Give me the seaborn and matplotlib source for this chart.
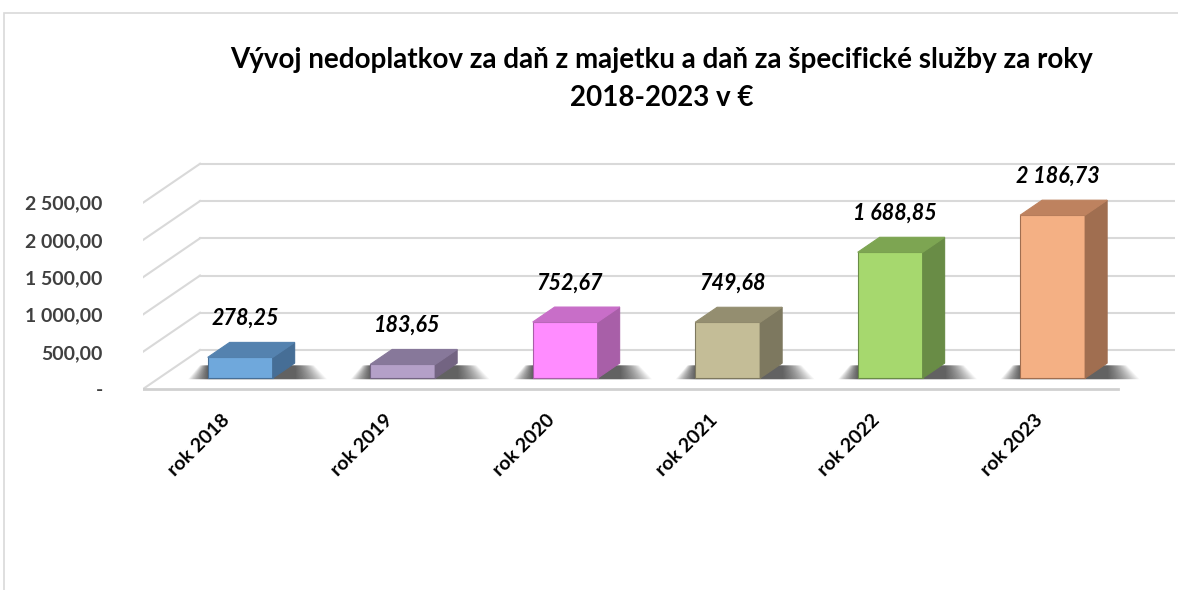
import seaborn as sns
import matplotlib.pyplot as plt
from matplotlib.patches import Polygon, Rectangle

years = ["rok 2018", "rok 2019", "rok 2020", "rok 2021", "rok 2022", "rok 2023"]
values = [278.25, 183.65, 752.67, 749.68, 1688.85, 2186.73]
y_ticks = [0, 500, 1000, 1500, 2000, 2500]
front_colors = ["#6FA8DC", "#B4A0C8", "#FF8CFF", "#C4BD97", "#A6D86E", "#F4B084"]
top_colors = ["#5482AF", "#87789A", "#C86EC8", "#948E70", "#7DA552", "#BE825F"]
side_colors = ["#466E96", "#736482", "#A85FA8", "#7D785F", "#698C46", "#A06E50"]
title = "Vývoj nedoplatkov za daň z majetku a daň za špecifické služby za roky\n2018-2023 v €"


def fmt(v):
    if v == 0:
        return "-"
    return f"{v:,.2f}".replace(",", " ").replace(".", ",")


# fake 3d box: depth of the whole floor and of one bar (data units)
DEPTH_X, DEPTH_Y = 0.351, 523
BAR_FRONT = 0.28
BAR_DX, BAR_DY = 0.135, 201
GRID = "#d9d9d9"

plt.rcParams['font.family'] = ['Lato', 'DejaVu Sans']

fig = plt.figure(figsize=(11.78, 5.9), dpi=100)
ax = fig.add_axes([143 / 1178, 189.8 / 590, 1032 / 1178, 245.9 / 590])

sns.barplot(x=years, y=values, hue=years, palette=front_colors, width=0.4,
            saturation=1, legend=False, ax=ax, zorder=4)

# walls and gridlines
for v in y_ticks:
    ax.plot([-0.5, -0.5 + DEPTH_X], [v, v + DEPTH_Y], color=GRID, lw=1.5, zorder=1)
    ax.plot([-0.5 + DEPTH_X, 5.5 + DEPTH_X], [v + DEPTH_Y] * 2, color=GRID, lw=1.5, zorder=1)
ax.plot([-0.5, 5.5], [0, 0], color="#d0d0d0", lw=2, zorder=1)

sx, sy = BAR_FRONT * DEPTH_X, BAR_FRONT * DEPTH_Y
for p, v, top, side in zip(ax.patches, values, top_colors, side_colors):
    x0 = p.get_x() + sx
    w = p.get_width()
    h = p.get_height()
    p.set_x(x0)
    p.set_y(sy)
    p.set_edgecolor(side)
    p.set_linewidth(0.8)
    x1 = x0 + w
    y1 = sy + h
    # soft shadow on the floor, many faint layers
    for k in range(22):
        gl = 0.005 + k * 0.0055
        gr = 0.01 + k * 0.009
        ax.add_patch(Polygon([(x0 - gl, sy - 15), (x1 + BAR_DX + gr, sy - 15),
                              (x1 + BAR_DX + gr * 0.6, sy + BAR_DY * 0.85),
                              (x0 - gl * 0.4, sy + BAR_DY * 0.85)],
                             closed=True, facecolor="k", edgecolor="none",
                             alpha=0.04, zorder=2))
    ax.add_patch(Polygon([(x1, sy), (x1 + BAR_DX, sy + BAR_DY), (x1 + BAR_DX, y1 + BAR_DY), (x1, y1)],
                         closed=True, facecolor=side, edgecolor=side, lw=0.8, zorder=4))
    ax.add_patch(Polygon([(x0, y1), (x1, y1), (x1 + BAR_DX, y1 + BAR_DY), (x0 + BAR_DX, y1 + BAR_DY)],
                         closed=True, facecolor=top, edgecolor=top, lw=0.8, zorder=4))
    ax.annotate(fmt(v), (x0 + w / 2 + 0.03, y1), xytext=(0, 28), textcoords="offset points",
                ha="center", va="center", fontsize=15.5, fontweight="bold", fontstyle="italic",
                color="black", zorder=6)

ax.set_xlim(-0.5, 5.5 + DEPTH_X)
ax.set_ylim(-150, 3150)
ax.set_yticks(y_ticks, [fmt(v) for v in y_ticks], fontsize=14, fontweight="bold", color="#404040")
ax.set_xticks([i - 0.02 for i in range(len(years))], years, rotation=45, ha="right",
              rotation_mode="anchor", fontsize=14, fontweight="bold", color="black")
ax.tick_params(axis="y", length=0, pad=29)
ax.tick_params(axis="x", length=0, pad=8)
for s in ax.spines.values():
    s.set_visible(False)
ax.patch.set_visible(False)
ax.set_xlabel("")
ax.set_ylabel("")

fig.text(662 / 1178, 1 - 79 / 590, title, ha="center", va="center", fontsize=20,
         fontweight="bold", linespacing=1.55)

fig.patches.append(Rectangle((4 / 1178, -0.1), 1.2, (590 - 13) / 590 + 0.1, fill=False,
                             edgecolor="#d9d9d9", lw=1.2, transform=fig.transFigure))

fig.savefig("out.png", dpi=100)
